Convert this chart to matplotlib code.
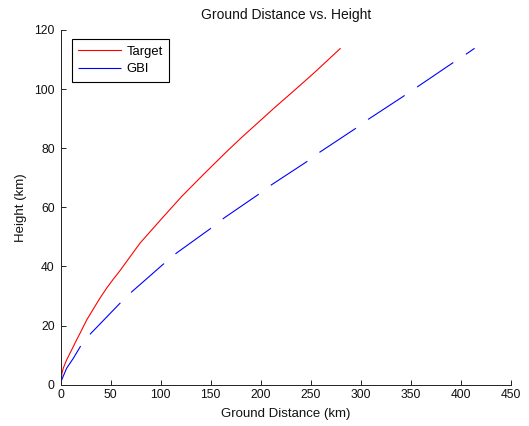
import matplotlib
matplotlib.use("Agg")
import matplotlib.pyplot as plt

# values
target_x = [0, 1.3, 2.6, 6, 11, 16, 21, 26, 31, 39.3, 46, 52.6, 59.3, 79.3, 101,
            121, 142.6, 166, 181, 199.3, 214.3, 232.6, 252.6, 279.3]
target_h = [0, 3.9, 5.6, 8.4, 11.8, 15.2, 18.5, 21.9, 24.7, 29.3, 32.7, 35.7, 38.6,
            47.9, 56.2, 63.7, 71.1, 78.9, 83.7, 89.3, 93.9, 99.3, 105.3, 113.7]

gbi_x = [0, 1, 6, 12.6, 19.3, 28.6, 60, 71, 105, 116, 151.3, 163.3, 198.6,
         211, 246.6, 258.6, 294.3, 307, 342.6, 355.3, 391, 403.3, 413.6]
gbi_h = [0, 1.6, 5.6, 8.9, 12.7, 16.8, 27.8, 31.4, 41.5, 44.6, 53.2, 56.4, 64.6,
         67.7, 75.6, 78.6, 86.6, 89.7, 97.6, 100.5, 108.7, 111.4, 113.8]

x_ticks = [0, 50, 100, 150, 200, 250, 300, 350, 400, 450]
y_ticks = [0, 20, 40, 60, 80, 100, 120]

plt.rcParams['font.family'] = ['Liberation Sans', 'DejaVu Sans']
plt.rcParams['font.size'] = 9.5
plt.rcParams['lines.scale_dashes'] = False

fig = plt.figure(figsize=(5.29, 4.26), dpi=100)
ax = fig.add_axes([0.1147, 0.097, 0.8513, 0.8326])

ax.plot(target_x, target_h, color='#ff0000', lw=0.8, label='Target')
ax.plot(gbi_x, gbi_h, color='#0000ff', lw=0.8, dashes=(31.5, 10.8), label='GBI')

ax.set_xlim(0, 450)
ax.set_ylim(0, 120)
ax.set_xticks(x_ticks)
ax.set_yticks(y_ticks)

for side in ['top', 'right']:
    ax.spines[side].set_visible(False)
for side in ['left', 'bottom']:
    ax.spines[side].set_linewidth(0.7)
    ax.spines[side].set_color('#222222')
ax.tick_params(direction='in', length=3.6, width=0.7, colors='#222222',
               labelcolor='#111111', labelsize=8.7)
ax.tick_params(axis='x', pad=3)
ax.tick_params(axis='y', pad=4.3)

ax.set_title('Ground Distance vs. Height', fontsize=10, pad=8, color='#111111')
ax.set_xlabel('Ground Distance (km)', labelpad=5, color='#111111')
ax.set_ylabel('Height (km)', labelpad=5, color='#111111')

leg = ax.legend(loc='upper left', bbox_to_anchor=(0.0244, 0.9738), fancybox=False,
                framealpha=1, edgecolor='black', fontsize=9.4, handlelength=3.3,
                handletextpad=0.4, borderpad=0.5, labelspacing=0.4, borderaxespad=0)
leg.get_frame().set_linewidth(0.8)

fig.savefig('out.png', dpi=100)
